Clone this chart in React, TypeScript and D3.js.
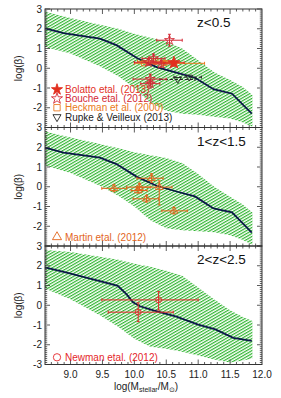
import React from 'react';
import * as d3 from 'd3';

const massTicks = [9.0, 9.5, 10.0, 10.5, 11.0, 11.5, 12.0];
const betaTicks = [3, 2, 1, 0, -1, -2, -3];
const panelLabels = ['z<0.5', '1<z<1.5', '2<z<2.5'];

// model median lines
const lineMass1 = [8.6, 8.89, 9.46, 9.72, 10.04, 10.35, 10.66, 10.95, 11.24, 11.53, 11.84];
const lineBeta1 = [2.02, 1.78, 1.5, 1.17, 0.52, 0.06, -0.22, -0.48, -1.06, -1.29, -2.3];
const lineMass2 = [8.6, 8.89, 9.46, 9.72, 10.04, 10.35, 10.66, 10.95, 11.24, 11.53, 11.84];
const lineBeta2 = [1.98, 1.73, 1.47, 1.15, 0.5, 0.05, -0.24, -0.49, -1.1, -1.3, -2.32];
const lineMass3 = [8.6, 8.94, 9.46, 9.74, 9.88, 9.98, 10.09, 10.3, 10.66, 11.0, 11.27, 11.55, 11.84];
const lineBeta3 = [1.92, 1.65, 1.22, 0.98, 0.55, 0.15, -0.05, -0.26, -0.58, -0.98, -1.22, -1.65, -1.8];

// model scatter bands
const bandMass = [8.6, 9.0, 9.46, 9.75, 10.0, 10.25, 10.5, 10.75, 11.0, 11.25, 11.5, 11.7, 11.85];
const bandUp1 = [2.86, 2.55, 2.2, 2.0, 1.75, 1.55, 1.35, 1.0, 0.4, -0.2, -0.6, -0.95, -1.35];
const bandLo1 = [1.08, 0.75, 0.1, -0.4, -1.0, -1.75, -2.15, -2.3, -2.35, -2.45, -2.55, -2.75, -2.96];
const bandUp2 = [2.8, 2.5, 2.17, 1.95, 1.75, 1.6, 1.45, 1.2, 0.65, 0.0, -0.5, -0.9, -1.3];
const bandLo2 = [1.07, 0.7, 0.05, -0.45, -1.0, -1.7, -2.1, -2.2, -2.25, -2.3, -2.45, -2.7, -2.95];
const bandUp3 = [2.8, 2.7, 2.45, 2.3, 2.1, 1.95, 1.75, 1.5, 0.9, 0.3, -0.25, -0.6, -0.8];
const bandLo3 = [0.85, 0.3, -0.5, -1.1, -1.7, -2.1, -2.2, -2.35, -2.55, -2.75, -2.9, -2.8, -2.7];

// observations: [mass, beta, massLo, massHi, betaLo, betaHi]
const bolatto = [[10.62, 0.28, 10.45, 10.78, 0.1, 0.45]];
const bouche = [
  [10.55, 1.42, 10.35, 10.75, 1.12, 1.72],
  [10.3, 0.5, 10.12, 10.48, 0.3, 0.72],
  [10.22, 0.3, 10.0, 10.42, 0.15, 0.45],
  [10.42, 0.22, 10.2, 10.6, 0.05, 0.4],
  [10.25, -0.55, 9.98, 10.5, -0.3, -0.85],
  [10.25, -0.78, 10.1, 10.4, -0.6, -1.0],
];
const heckman = [
  [10.33, 0.35, 10.05, 10.6, 0.2, 0.5],
  [10.15, 0.25, 10.0, 11.1, 0.25, 0.25],
  [10.47, 0.27, 10.3, 10.65, 0.15, 0.4],
];
const rupke = [
  [10.68, -0.57, 10.4, 10.95, -0.57, -0.57],
  [10.86, -0.45, 10.62, 11.05, -0.45, -0.45],
];
const martin = [
  [10.27, 0.43, 10.04, 10.45, 0.23, 0.66],
  [9.68, -0.08, 9.49, 9.88, -0.25, 0.1],
  [10.08, -0.02, 9.88, 10.25, -0.2, 0.18],
  [10.06, -0.19, 9.95, 10.2, -0.32, -0.05],
  [10.39, -0.02, 10.04, 10.59, -0.92, 0.3],
  [10.19, -0.61, 9.98, 10.38, -0.78, -0.44],
  [10.62, -1.22, 10.43, 10.83, -1.38, -1.05],
];
const newman = [
  [10.38, 0.27, 9.49, 11.0, -0.24, 0.69],
  [10.06, -0.35, 9.59, 10.61, -0.83, 0.12],
];

const W = 281, H = 398;
const L = 45, R = 262, TOP = 9, PH = 118.5;
const FONT = "'Liberation Sans', Arial, Helvetica, sans-serif";
const RED = '#e2301f', CRIMSON = '#d42a36', ORANGE = '#ea7a22', MORANGE = '#e2651c', NRED = '#e4262a';
const GREEN = '#2fb52f', NAVY = '#0b1848';

const x = d3.scaleLinear().domain([8.6, 12.0]).range([L, R]);

function ErrBars({ pts, y, color, dashed }: any) {
  return (
    <g stroke={color} strokeWidth={1} strokeDasharray={dashed ? '3,2' : undefined}>
      {pts.map((p: number[], i: number) => (
        <g key={i}>
          <line x1={x(p[2])} x2={x(p[3])} y1={y(p[1])} y2={y(p[1])} />
          <line x1={x(p[2])} x2={x(p[2])} y1={y(p[1]) - 1.5} y2={y(p[1]) + 1.5} />
          <line x1={x(p[3])} x2={x(p[3])} y1={y(p[1]) - 1.5} y2={y(p[1]) + 1.5} />
          {p[4] !== p[5] && (
            <>
              <line x1={x(p[0])} x2={x(p[0])} y1={y(p[4])} y2={y(p[5])} />
              <line x1={x(p[0]) - 1.5} x2={x(p[0]) + 1.5} y1={y(p[4])} y2={y(p[4])} />
              <line x1={x(p[0]) - 1.5} x2={x(p[0]) + 1.5} y1={y(p[5])} y2={y(p[5])} />
            </>
          )}
        </g>
      ))}
    </g>
  );
}

function Marker({ type, cx, cy, color, size, filled }: any) {
  let sym: any = d3.symbolCircle;
  if (type === 'star') sym = d3.symbolStar;
  else if (type === 'square') sym = d3.symbolSquare;
  else if (type === 'triangle' || type === 'tdown') sym = d3.symbolTriangle;
  const path = d3.symbol().type(sym).size(size)() as string;
  const rot = type === 'tdown' ? 180 : 0;
  return (
    <path d={path} transform={`translate(${cx},${cy}) rotate(${rot})`}
      fill={filled ? color : 'none'} stroke={color} strokeWidth={0.9} />
  );
}

function Panel({ i }: { i: number }) {
  const top = TOP + i * PH;
  const y = d3.scaleLinear().domain([-3, 3]).range([top + PH, top]);
  const bU = [bandUp1, bandUp2, bandUp3][i];
  const bL = [bandLo1, bandLo2, bandLo3][i];
  const lm = [lineMass1, lineMass2, lineMass3][i];
  const lb = [lineBeta1, lineBeta2, lineBeta3][i];
  const area = d3.area<number>().x((_, k) => x(bandMass[k])).y0((_, k) => y(bL[k])).y1((_, k) => y(bU[k]));
  const line = d3.line<number>().x((_, k) => x(lm[k])).y((d) => y(d));
  const minorX = d3.range(87, 120).map((v) => v / 10);
  const minorY = d3.range(-30, 31).map((v) => v / 10);
  const labels = i === 2 ? betaTicks : betaTicks.slice(0, 6);
  return (
    <g>
      <path d={area(bandMass) as string} fill="url(#hatch)" />
      <path d={line(lb) as string} fill="none" stroke={NAVY} strokeWidth={1.8} />
      <rect x={L} y={top} width={R - L} height={PH} fill="none" stroke="#333" strokeWidth={1} />
      <g stroke="#333" strokeWidth={0.8}>
        {minorX.map((v) => {
          const major = Math.abs(v * 2 - Math.round(v * 2)) < 1e-6;
          const len = major ? 5 : 2.5;
          return (
            <g key={v}>
              <line x1={x(v)} x2={x(v)} y1={top + PH} y2={top + PH - len} />
              <line x1={x(v)} x2={x(v)} y1={top} y2={top + len} />
            </g>
          );
        })}
        {minorY.map((v) => {
          const major = Math.abs(v - Math.round(v)) < 1e-6;
          const len = major ? 5 : 2.2;
          return (
            <g key={v}>
              <line x1={L} x2={L + len} y1={y(v)} y2={y(v)} />
              <line x1={R} x2={R - len} y1={y(v)} y2={y(v)} />
            </g>
          );
        })}
      </g>
      <g fontFamily={FONT} fontSize={10} fill="#222" textAnchor="end">
        {labels.map((v) => (
          <text key={v} x={L - 3} y={y(v) + 3.5}>{v}</text>
        ))}
      </g>
      <text transform={`translate(${22},${top + PH / 2}) rotate(-90)`} textAnchor="middle"
        fontFamily={FONT} fontSize={10} fill="#222">log(β)</text>
      <text x={197} y={top + 18} fontFamily={FONT} fontSize={13.5} fill="#111">{panelLabels[i]}</text>
    </g>
  );
}

export default function App() {
  const y1 = d3.scaleLinear().domain([-3, 3]).range([TOP + PH, TOP]);
  const y2 = d3.scaleLinear().domain([-3, 3]).range([TOP + 2 * PH, TOP + PH]);
  const y3 = d3.scaleLinear().domain([-3, 3]).range([TOP + 3 * PH, TOP + 2 * PH]);
  const legFont = { fontFamily: FONT, fontSize: 10 } as any;
  const leg1 = [
    { t: 'Bolatto etal. (2013)', c: RED, m: 'star', f: true, s: 38 },
    { t: 'Bouche etal. (2012)', c: CRIMSON, m: 'star', f: false, s: 38 },
    { t: 'Heckman et al. (2000)', c: ORANGE, m: 'square', f: false, s: 40 },
    { t: 'Rupke & Veilleux (2013)', c: '#222', m: 'tdown', f: false, s: 28 },
  ];
  const legY = [89.5, 98.6, 107.7, 117];
  return (
    <svg width={W} height={H} style={{ position: 'absolute', left: 0, top: 0, background: '#fff' }}>
      <defs>
        <pattern id="hatch" patternUnits="userSpaceOnUse" width={4} height={2.6} patternTransform="rotate(-30)">
          <rect width={4} height={2.6} fill="#fff" />
          <line x1={0} x2={4} y1={0.6} y2={0.6} stroke={GREEN} strokeWidth={1.2} />
        </pattern>
      </defs>
      <rect width={W} height={H} fill="#fff" />
      {[0, 1, 2].map((i) => <Panel key={i} i={i} />)}

      <ErrBars pts={rupke} y={y1} color="#222" dashed />
      {rupke.map((p, k) => <Marker key={'r' + k} type="tdown" cx={x(p[0])} cy={y1(p[1])} color="#222" size={20} />)}
      <ErrBars pts={heckman} y={y1} color={ORANGE} />
      {heckman.map((p, k) => <Marker key={'h' + k} type="square" cx={x(p[0])} cy={y1(p[1])} color={ORANGE} size={26} />)}
      <ErrBars pts={bouche} y={y1} color={CRIMSON} />
      {bouche.map((p, k) => <Marker key={'b' + k} type="star" cx={x(p[0])} cy={y1(p[1])} color={CRIMSON} size={30} />)}
      <ErrBars pts={bolatto} y={y1} color={RED} />
      {bolatto.map((p, k) => <Marker key={'bo' + k} type="star" cx={x(p[0])} cy={y1(p[1])} color={RED} size={48} filled />)}

      <ErrBars pts={martin} y={y2} color={MORANGE} />
      {martin.map((p, k) => <Marker key={'m' + k} type="triangle" cx={x(p[0])} cy={y2(p[1])} color={MORANGE} size={26} />)}

      <ErrBars pts={newman} y={y3} color={NRED} />
      {newman.map((p, k) => <Marker key={'n' + k} type="circle" cx={x(p[0])} cy={y3(p[1])} color={NRED} size={28} />)}

      {leg1.map((l, k) => (
        <g key={l.t}>
          <Marker type={l.m} cx={57} cy={legY[k]} color={l.c} size={l.s} filled={l.f} />
          <text x={65} y={legY[k] + 3.6} fill={l.c} {...legFont}>{l.t}</text>
        </g>
      ))}
      <Marker type="triangle" cx={57} cy={237} color={MORANGE} size={36} />
      <text x={65} y={240.6} fill={MORANGE} {...legFont}>Martin etal. (2012)</text>
      <Marker type="circle" cx={57} cy={357.3} color={NRED} size={42} />
      <text x={65} y={360.9} fill={NRED} {...legFont}>Newman etal. (2012)</text>

      <g fontFamily={FONT} fontSize={10} fill="#222" textAnchor="middle">
        {massTicks.map((v) => (
          <text key={v} x={x(v)} y={TOP + 3 * PH + 13}>{v.toFixed(1)}</text>
        ))}
      </g>
      <text x={146} y={390} textAnchor="middle" fontFamily={FONT} fontSize={10} fill="#222">
        log(M<tspan fontSize={7} dy={2}>stellar</tspan><tspan dy={-2}>/M</tspan><tspan fontSize={7} dy={2}>⊙</tspan><tspan dy={-2}>)</tspan>
      </text>
    </svg>
  );
}
